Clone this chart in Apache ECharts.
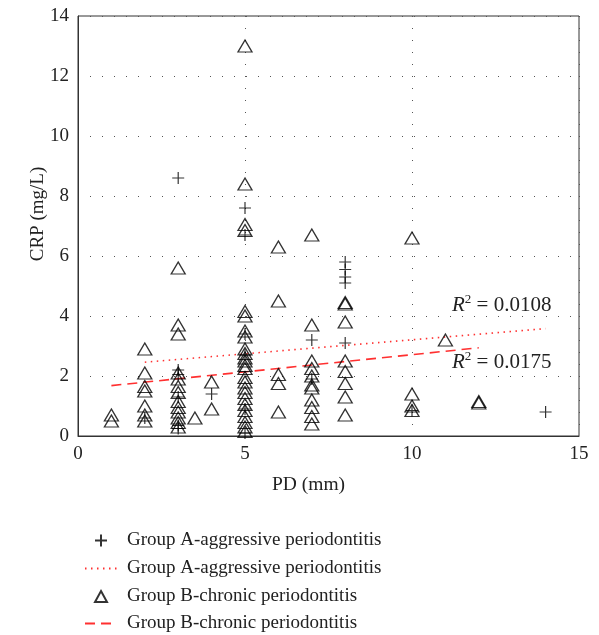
<!DOCTYPE html>
<html>
<head>
<meta charset="utf-8">
<script src="https://cdn.jsdelivr.net/npm/echarts@6/dist/echarts.min.js"></script>
<style>
  html, body { margin: 0; padding: 0; background: #fff; }
  #chart { width: 599px; height: 635px; }
</style>
</head>
<body>
<div id="chart"></div>
<script>
// Group A - aggressive periodontitis, [PD, CRP]
const groupA = [
  [2, 0.6], [3, 8.6], [3, 2.2], [3, 2.05], [3, 1.3], [3, 0.35], [3, 0.25],
  [4, 1.4], [5, 7.6], [5, 6.7], [5, 3.4], [5, 2.7], [5, 0.9], [5, 0.1],
  [7, 3.2], [7, 1.9], [8, 5.8], [8, 5.55], [8, 5.3], [8, 5.1], [8, 3.1],
  [10, 0.85], [14, 0.8]
];
// Group B - chronic periodontitis, [PD, CRP]
const groupB = [
  [1, 0.7], [1, 0.5],
  [2, 2.9], [2, 2.1], [2, 1.65], [2, 1.5], [2, 1.0], [2, 0.7], [2, 0.5],
  [3, 5.6], [3, 3.7], [3, 3.4], [3, 2.1], [3, 1.9], [3, 1.65], [3, 1.45], [3, 1.15],
  [3, 0.95], [3, 0.8], [3, 0.6], [3, 0.45], [3, 0.3],
  [3.5, 0.6], [4, 1.8], [4, 0.9],
  [5, 13.0], [5, 8.4], [5, 7.05], [5, 6.85], [5, 4.15], [5, 4.0], [5, 3.5], [5, 3.3],
  [5, 2.9], [5, 2.75], [5, 2.6], [5, 2.5], [5, 2.35], [5, 2.25], [5, 1.95], [5, 1.8],
  [5, 1.6], [5, 1.45], [5, 1.25], [5, 1.05], [5, 0.85], [5, 0.65], [5, 0.45], [5, 0.3], [5, 0.15],
  [6, 6.3], [6, 4.5], [6, 2.05], [6, 1.75], [6, 0.8],
  [7, 6.7], [7, 3.7], [7, 2.5], [7, 2.25], [7, 2.0], [7, 1.7], [7, 1.6], [7, 1.2],
  [7, 0.95], [7, 0.65], [7, 0.4],
  [8, 4.45], [8, 4.4], [8, 3.8], [8, 2.5], [8, 2.15], [8, 1.75], [8, 1.3], [8, 0.7],
  [10, 6.6], [10, 1.4], [10, 1.0], [10, 0.85],
  [11, 3.2], [12, 1.15], [12, 1.1]
];
// linear fits (end points)
const fitA = [[2, 2.46], [14, 3.58]];
const fitB = [[1, 1.68], [12, 2.94]];
const r2Labels = ['0.0108', '0.0175'];

const nameA = 'Group A-aggressive periodontitis';
const nameB = 'Group B-chronic periodontitis';
const serif = '"Liberation Serif", "DejaVu Serif", serif';
const plusPath = 'path://M0,5L10,5M5,0L5,10';
const red = '#ff3030';

const chart = echarts.init(document.getElementById('chart'));

const rStyle = {
  i: { fontFamily: serif, fontStyle: 'italic', fontSize: 21, fill: '#222' },
  s: { fontFamily: serif, fontSize: 13, fill: '#222', verticalAlign: 'bottom', padding: [0, 0, 12, 0] },
  t: { fontFamily: serif, fontSize: 21, fill: '#222' }
};

// one legend per row so each icon can have its own size
function legendRow(name, top, w, h, padLeft, extra) {
  return Object.assign({
    orient: 'vertical', left: 95 - w / 2, top: top,
    itemWidth: w, itemHeight: h,
    textStyle: { fontFamily: serif, fontSize: 19, color: '#222', padding: [0, 0, 0, padLeft] },
    data: [name]
  }, extra || {});
}
const hideSymbol = { itemStyle: { color: 'transparent', borderWidth: 0 } };

const option = {
  animation: false,
  backgroundColor: '#fff',
  textStyle: { fontFamily: serif },
  grid: {
    left: 78, right: 20, top: 16, bottom: 199,
    show: true, borderColor: '#333', borderWidth: 1
  },
  xAxis: {
    type: 'value', min: 0, max: 15, interval: 5,
    name: 'PD (mm)', nameLocation: 'middle', nameGap: 39, nameMoveOverlap: false,
    nameTextStyle: { fontFamily: serif, fontSize: 19.5, color: '#222', padding: [0, 40, 0, 0] },
    axisLine: { lineStyle: { color: '#333' } },
    axisTick: { show: false },
    axisLabel: { fontFamily: serif, fontSize: 19, color: '#222', margin: 9 },
    splitLine: { lineStyle: { color: '#555', type: [1, 11], width: 1 } }
  },
  yAxis: {
    type: 'value', min: 0, max: 14, interval: 2,
    name: 'CRP (mg/L)', nameLocation: 'middle', nameGap: 30, nameMoveOverlap: false,
    nameTextStyle: { fontFamily: serif, fontSize: 19, color: '#222', padding: [0, 0, 0, 24] },
    axisLine: { lineStyle: { color: '#333' } },
    axisTick: { show: false },
    axisLabel: { fontFamily: serif, fontSize: 19, color: '#222', margin: 9 },
    splitLine: { lineStyle: { color: '#555', type: [1, 11], width: 1 } }
  },
  legend: [
    legendRow(nameA, 526, 12, 12, 15),
    legendRow(nameA + ' ', 554, 32, 12, 5, hideSymbol),
    legendRow(nameB, 582, 12, 11, 15),
    legendRow(nameB + ' ', 609, 32, 12, 5, hideSymbol)
  ],
  series: [
    {
      name: nameA, type: 'scatter', data: groupA,
      symbol: plusPath, symbolSize: 12, z: 4,
      itemStyle: { color: 'transparent', borderColor: '#000', borderWidth: 1.2 }
    },
    {
      name: nameA + ' ', type: 'line', data: fitA, symbol: 'none', z: 3,
      itemStyle: { color: red },
      lineStyle: { color: red, width: 1.6, type: [1.5, 4.5] }
    },
    {
      name: nameB, type: 'scatter', data: groupB,
      symbol: 'triangle', symbolSize: [14, 12], z: 4,
      itemStyle: { color: 'transparent', borderColor: '#000', borderWidth: 1.3 }
    },
    {
      name: nameB + ' ', type: 'line', data: fitB, symbol: 'none', z: 3,
      itemStyle: { color: red },
      lineStyle: { color: red, width: 1.6, type: [10, 6] }
    }
  ],
  graphic: [
    {
      type: 'text', left: 452, top: 293,
      style: { text: '{i|R}{s|2}{t| = ' + r2Labels[0] + '}', rich: rStyle }
    },
    {
      type: 'text', left: 452, top: 350,
      style: { text: '{i|R}{s|2}{t| = ' + r2Labels[1] + '}', rich: rStyle }
    }
  ]
};

chart.setOption(option);
</script>
</body>
</html>
